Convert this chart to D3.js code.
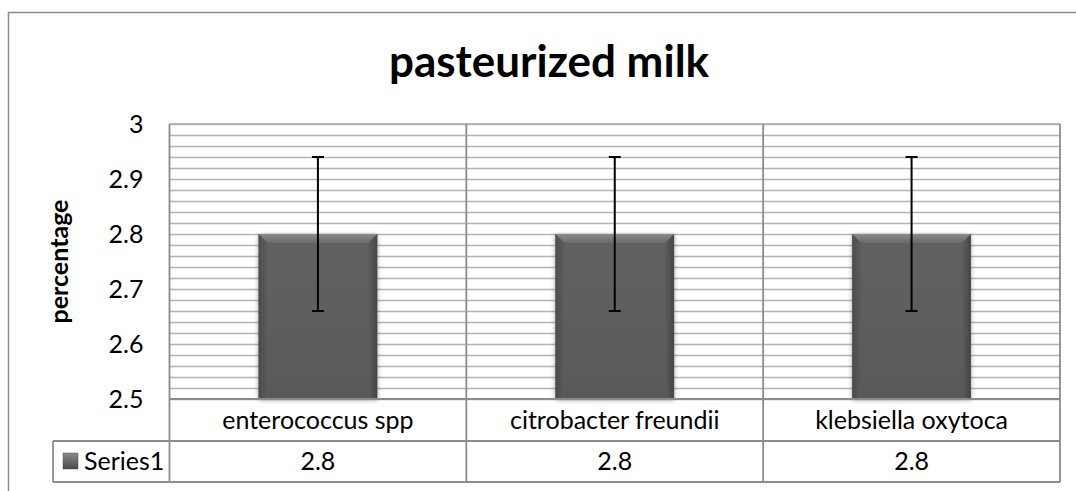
<!DOCTYPE html>
<html>
<head>
<meta charset="utf-8">
<script src="https://cdn.jsdelivr.net/npm/d3@7"></script>
<style>
  html, body { margin: 0; padding: 0; background: #fff; }
  svg { display: block; font-family: Lato, "Open Sans", sans-serif; }
</style>
</head>
<body>
<svg id="chart" width="1076" height="491"></svg>
<script>
// ---- data ----
const title = "pasteurized milk";
const yAxisTitle = "percentage";
const seriesName = "Series1";
const categories = ["enterococcus spp", "citrobacter freundii", "klebsiella oxytoca"];
const values = [2.8, 2.8, 2.8];
const errors = [0.14, 0.14, 0.14];
const yTicks = [2.5, 2.6, 2.7, 2.8, 2.9, 3];
const yDomain = [2.5, 3];
const gridStep = 0.02;

// ---- layout ----
const W = 1076, H = 491;
const plot = { left: 169.5, right: 1060, top: 124, bottom: 399 };
const tableRows = { catBottom: 441, valBottom: 482, left: 53 };

const svg = d3.select("#chart");
const defs = svg.append("defs");

const barGrad = defs.append("linearGradient").attr("id", "barGrad")
  .attr("x1", 0).attr("y1", 0).attr("x2", 0).attr("y2", 1);
barGrad.append("stop").attr("offset", "0%").attr("stop-color", "#626262");
barGrad.append("stop").attr("offset", "100%").attr("stop-color", "#595959");

const topGrad = defs.append("linearGradient").attr("id", "topGrad")
  .attr("x1", 0).attr("y1", 0).attr("x2", 0).attr("y2", 1);
topGrad.append("stop").attr("offset", "0%").attr("stop-color", "#8a8a8a");
topGrad.append("stop").attr("offset", "100%").attr("stop-color", "#6a6a6a");

const leftGrad = defs.append("linearGradient").attr("id", "leftGrad")
  .attr("x1", 0).attr("y1", 0).attr("x2", 1).attr("y2", 0);
leftGrad.append("stop").attr("offset", "0%").attr("stop-color", "#444");
leftGrad.append("stop").attr("offset", "100%").attr("stop-color", "#5c5c5c");

const rightGrad = defs.append("linearGradient").attr("id", "rightGrad")
  .attr("x1", 0).attr("y1", 0).attr("x2", 1).attr("y2", 0);
rightGrad.append("stop").attr("offset", "0%").attr("stop-color", "#5c5c5c");
rightGrad.append("stop").attr("offset", "100%").attr("stop-color", "#3c3c3c");

const keyGrad = defs.append("linearGradient").attr("id", "keyGrad")
  .attr("x1", 0).attr("y1", 0).attr("x2", 0).attr("y2", 1);
keyGrad.append("stop").attr("offset", "0%").attr("stop-color", "#8a8a8a");
keyGrad.append("stop").attr("offset", "100%").attr("stop-color", "#4a4a4a");

const shadow = defs.append("filter").attr("id", "shadow")
  .attr("x", "-20%").attr("y", "-20%").attr("width", "140%").attr("height", "140%");
shadow.append("feGaussianBlur").attr("in", "SourceAlpha").attr("stdDeviation", 2.5).attr("result", "b");
shadow.append("feOffset").attr("in", "b").attr("dx", 0).attr("dy", 1).attr("result", "o");
shadow.append("feComponentTransfer").attr("in", "o").attr("result", "s")
  .append("feFuncA").attr("type", "linear").attr("slope", 0.35);
const m = shadow.append("feMerge");
m.append("feMergeNode").attr("in", "s");
m.append("feMergeNode").attr("in", "SourceGraphic");

// outer chart border (clipped by the window at right/bottom)
svg.append("rect").attr("x", 8.5).attr("y", 12.5).attr("width", 1080).attr("height", 500)
  .attr("fill", "#fff").attr("stroke", "#8c8c8c").attr("stroke-width", 1.5);

// scales
const x = d3.scaleBand().domain(categories).range([plot.left, plot.right]).padding(0);
const y = d3.scaleLinear().domain(yDomain).range([plot.bottom, plot.top]);

// gridlines
const gridVals = d3.range(Math.round((yDomain[1] - yDomain[0]) / gridStep) + 1)
  .map(i => yDomain[0] + i * gridStep);
svg.append("g").selectAll("line").data(gridVals).join("line")
  .attr("x1", plot.left).attr("x2", plot.right)
  .attr("y1", d => Math.round(y(d)) + 0.5).attr("y2", d => Math.round(y(d)) + 0.5)
  .attr("stroke", "#b4b4b4").attr("stroke-width", 1.6);

// y axis tick labels
const yAxis = d3.axisLeft(y).tickValues(yTicks).tickSize(0).tickPadding(0)
  .tickFormat(d => d3.format("")(+d.toFixed(1)));
const gy = svg.append("g").attr("transform", `translate(${plot.left - 26},0)`).call(yAxis);
gy.select(".domain").remove();
gy.selectAll("text").attr("font-size", 25).attr("font-family", "Lato, sans-serif")
  .attr("fill", "#000").attr("dy", "0.35em");

// y axis title
svg.append("text")
  .attr("transform", `translate(68,${(plot.top + plot.bottom) / 2}) rotate(-90)`)
  .attr("text-anchor", "middle").attr("font-size", 25).attr("font-weight", "bold")
  .attr("fill", "#000").text(yAxisTitle);

// title
svg.append("text").attr("x", 549).attr("y", 77).attr("text-anchor", "middle")
  .attr("font-size", 44).attr("font-weight", "bold").attr("fill", "#000").text(title);

// bars
const barW = x.bandwidth() * 0.4;
const bars = svg.append("g").selectAll("g").data(categories).join("g")
  .attr("filter", "url(#shadow)");
bars.each(function(c, i) {
  const g = d3.select(this);
  const x0 = x(c) + (x.bandwidth() - barW) / 2, x1 = x0 + barW;
  const y0 = y(values[i]), y1 = y(yDomain[0]);
  const bv = 9;
  g.append("rect").attr("x", x0).attr("y", y0).attr("width", barW).attr("height", y1 - y0)
    .attr("fill", "url(#barGrad)");
  g.append("polygon").attr("points", [[x0, y0], [x1, y0], [x1 - bv, y0 + bv], [x0 + bv, y0 + bv]].join(" "))
    .attr("fill", "url(#topGrad)");
  g.append("polygon").attr("points", [[x0, y0], [x0 + bv, y0 + bv], [x0 + bv, y1], [x0, y1]].join(" "))
    .attr("fill", "url(#leftGrad)").attr("opacity", 0.7);
  g.append("polygon").attr("points", [[x1, y0], [x1 - bv, y0 + bv], [x1 - bv, y1], [x1, y1]].join(" "))
    .attr("fill", "url(#rightGrad)").attr("opacity", 0.7);
});

// error bars
const eb = svg.append("g").selectAll("g").data(categories).join("g");
eb.append("line")
  .attr("x1", c => x(c) + x.bandwidth() / 2).attr("x2", c => x(c) + x.bandwidth() / 2)
  .attr("y1", (c, i) => y(values[i] + errors[i])).attr("y2", (c, i) => y(values[i] - errors[i]))
  .attr("stroke", "#000").attr("stroke-width", 2);
[1, -1].forEach(s => {
  eb.append("line")
    .attr("x1", c => x(c) + x.bandwidth() / 2 - 6).attr("x2", c => x(c) + x.bandwidth() / 2 + 6)
    .attr("y1", (c, i) => y(values[i] + s * errors[i])).attr("y2", (c, i) => y(values[i] + s * errors[i]))
    .attr("stroke", "#000").attr("stroke-width", 2);
});

// plot frame + data table lines
const lc = "#8c8c8c";
const lines = svg.append("g").attr("stroke", lc).attr("stroke-width", 1.8).attr("fill", "none");
lines.append("line").attr("x1", plot.left).attr("x2", plot.right).attr("y1", plot.top).attr("y2", plot.top)
  .attr("stroke", "#b4b4b4");
lines.append("line").attr("x1", plot.left).attr("x2", plot.right).attr("y1", plot.bottom).attr("y2", plot.bottom);
lines.append("line").attr("x1", tableRows.left).attr("x2", plot.right).attr("y1", tableRows.catBottom).attr("y2", tableRows.catBottom);
lines.append("line").attr("x1", tableRows.left).attr("x2", plot.right).attr("y1", tableRows.valBottom).attr("y2", tableRows.valBottom);
lines.append("line").attr("x1", tableRows.left).attr("x2", tableRows.left).attr("y1", tableRows.catBottom).attr("y2", tableRows.valBottom);
const bounds = categories.map(c => x(c)).concat([plot.right]);
lines.selectAll(".v").data(bounds).join("line").attr("class", "v")
  .attr("x1", d => d).attr("x2", d => d).attr("y1", plot.top).attr("y2", tableRows.valBottom);

// table texts
svg.append("g").selectAll("text").data(categories).join("text")
  .attr("x", c => x(c) + x.bandwidth() / 2).attr("y", (plot.bottom + tableRows.catBottom) / 2)
  .attr("dy", "0.35em").attr("text-anchor", "middle").attr("font-size", 25).attr("fill", "#000")
  .text(c => c);
svg.append("g").selectAll("text").data(values).join("text")
  .attr("x", (d, i) => x(categories[i]) + x.bandwidth() / 2).attr("y", (tableRows.catBottom + tableRows.valBottom) / 2)
  .attr("dy", "0.35em").attr("text-anchor", "middle").attr("font-size", 25).attr("fill", "#000")
  .text(d => d);

// legend key + series name
svg.append("rect").attr("x", 63).attr("y", 453).attr("width", 15).attr("height", 16)
  .attr("fill", "url(#keyGrad)").attr("stroke", "#555").attr("stroke-width", 0.5);
svg.append("text").attr("x", 84).attr("y", (tableRows.catBottom + tableRows.valBottom) / 2)
  .attr("dy", "0.35em").attr("font-size", 25).attr("fill", "#000").text(seriesName);
</script>
</body>
</html>
